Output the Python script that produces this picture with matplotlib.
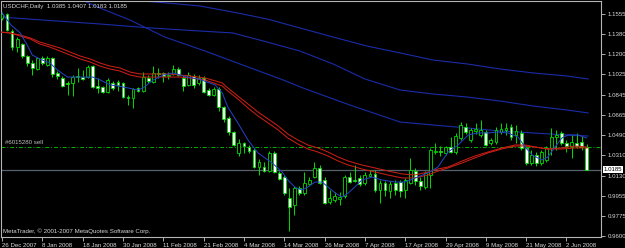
import matplotlib
matplotlib.use("Agg")
import matplotlib.pyplot as plt
import matplotlib.transforms as mtransforms
from matplotlib.patches import Rectangle

# USDCHF daily bars, 26 Dec 2007 .. 6 Jun 2008
opens = [1.1520, 1.1555, 1.1405, 1.1264, 1.1291, 1.1185, 1.1124, 1.1071, 1.1168, 1.1106,
         1.1168, 1.1036, 1.0992, 1.0948, 1.0948, 1.1009, 1.1000, 1.1000, 1.1097, 1.0921,
         1.0912, 1.0868, 1.0948, 1.0956, 1.0948, 1.0824, 1.0816, 1.0904, 1.0877, 1.0992,
         1.0956, 1.1036, 1.1036, 1.1009, 1.1027, 1.1071, 1.0992, 1.0930, 1.1009, 1.0948,
         1.0992, 1.0886, 1.0842, 1.0895, 1.0736, 1.0640, 1.0516, 1.0332, 1.0420, 1.0384,
         1.0358, 1.0208, 1.0208, 1.0173, 1.0332, 1.0156, 1.0120, 0.9936, 0.9874, 1.0024,
         0.9980, 1.0059, 1.0120, 1.0200, 1.0094, 0.9900, 0.9918, 0.9927, 0.9953, 1.0120,
         1.0094, 1.0112, 1.0068, 1.0129, 1.0147, 1.0006, 1.0068, 0.9997, 1.0068, 1.0076,
         1.0006, 1.0068, 1.0173, 1.0085, 1.0032, 1.0138, 1.0340, 1.0349, 1.0332, 1.0384,
         1.0340, 1.0464, 1.0560, 1.0446, 1.0525, 1.0490, 1.0516, 1.0420, 1.0428, 1.0516,
         1.0534, 1.0560, 1.0490, 1.0508, 1.0376, 1.0244, 1.0314, 1.0244, 1.0270, 1.0376,
         1.0472, 1.0508, 1.0420, 1.0393, 1.0420, 1.0428, 1.0385]
highs = [1.1572, 1.1564, 1.1423, 1.1352, 1.1300, 1.1194, 1.1150, 1.1176, 1.1185, 1.1185,
         1.1176, 1.1053, 1.1009, 1.0965, 1.1018, 1.1080, 1.1062, 1.1106, 1.1106, 1.0992,
         1.0921, 1.0992, 1.0965, 1.0974, 1.0956, 1.0842, 1.0904, 1.0912, 1.1044, 1.1018,
         1.1097, 1.1080, 1.1044, 1.1044, 1.1106, 1.1088, 1.1018, 1.1044, 1.1027, 1.1018,
         1.1009, 1.0904, 1.0912, 1.0912, 1.0745, 1.0657, 1.0525, 1.0455, 1.0428, 1.0402,
         1.0376, 1.0279, 1.0252, 1.0349, 1.0349, 1.0173, 1.0138, 1.0024, 1.0041, 1.0041,
         1.0164, 1.0120, 1.0252, 1.0226, 1.0120, 1.0006, 0.9988, 0.9988, 1.0138, 1.0164,
         1.0226, 1.0138, 1.0164, 1.0182, 1.0182, 1.0094, 1.0085, 1.0085, 1.0094, 1.0094,
         1.0112, 1.0288, 1.0200, 1.0120, 1.0173, 1.0376, 1.0420, 1.0393, 1.0393, 1.0472,
         1.0508, 1.0604, 1.0596, 1.0552, 1.0596, 1.0622, 1.0534, 1.0464, 1.0560, 1.0596,
         1.0596, 1.0587, 1.0578, 1.0534, 1.0393, 1.0358, 1.0340, 1.0358, 1.0393, 1.0552,
         1.0534, 1.0525, 1.0446, 1.0490, 1.0508, 1.0481, 1.0407]
lows = [1.1502, 1.1405, 1.1238, 1.1220, 1.1168, 1.1097, 1.1018, 1.1062, 1.1106, 1.1097,
        1.1000, 1.0983, 1.0912, 1.0842, 1.0833, 1.0956, 1.0974, 1.0992, 1.0904, 1.0860,
        1.0860, 1.0860, 1.0886, 1.0877, 1.0816, 1.0754, 1.0728, 1.0868, 1.0868, 1.0948,
        1.0948, 1.0992, 1.0956, 1.0983, 1.1018, 1.1009, 1.0877, 1.0921, 1.0904, 1.0930,
        1.0860, 1.0833, 1.0833, 1.0701, 1.0604, 1.0490, 1.0393, 1.0305, 1.0332, 1.0332,
        1.0200, 1.0138, 1.0164, 1.0164, 1.0156, 1.0094, 0.9962, 0.9645, 0.9786, 0.9962,
        0.9962, 1.0050, 1.0112, 1.0059, 0.9883, 0.9883, 0.9900, 0.9874, 0.9936, 1.0068,
        1.0076, 1.0041, 1.0050, 1.0120, 0.9988, 0.9892, 0.9953, 0.9936, 0.9962, 0.9944,
        0.9936, 1.0059, 1.0050, 1.0006, 1.0015, 1.0024, 1.0323, 1.0305, 1.0314, 1.0332,
        1.0323, 1.0446, 1.0499, 1.0428, 1.0499, 1.0472, 1.0393, 1.0402, 1.0411, 1.0499,
        1.0490, 1.0446, 1.0420, 1.0358, 1.0226, 1.0226, 1.0217, 1.0226, 1.0252, 1.0314,
        1.0358, 1.0402, 1.0340, 1.0288, 1.0376, 1.0358, 1.0183]
closes = [1.1555, 1.1414, 1.1264, 1.1335, 1.1185, 1.1124, 1.1080, 1.1168, 1.1124, 1.1168,
          1.1027, 1.1009, 1.0921, 1.0939, 1.1000, 1.1000, 1.0983, 1.1088, 1.0912, 1.0904,
          1.0868, 1.0974, 1.0904, 1.0930, 1.0824, 1.0816, 1.0895, 1.0877, 1.1000, 1.0965,
          1.1036, 1.1027, 1.1009, 1.1018, 1.1071, 1.1018, 1.0921, 1.1018, 1.0930, 1.0992,
          1.0868, 1.0842, 1.0895, 1.0736, 1.0631, 1.0516, 1.0402, 1.0420, 1.0393, 1.0349,
          1.0208, 1.0252, 1.0173, 1.0332, 1.0164, 1.0103, 0.9980, 0.9856, 1.0024, 0.9980,
          1.0068, 1.0094, 1.0200, 1.0068, 0.9892, 0.9936, 0.9953, 0.9944, 1.0120, 1.0076,
          1.0085, 1.0059, 1.0138, 1.0147, 1.0006, 1.0068, 1.0006, 1.0059, 1.0006, 0.9997,
          1.0094, 1.0182, 1.0085, 1.0041, 1.0156, 1.0358, 1.0349, 1.0340, 1.0384, 1.0340,
          1.0481, 1.0578, 1.0516, 1.0534, 1.0543, 1.0534, 1.0402, 1.0446, 1.0534, 1.0543,
          1.0552, 1.0472, 1.0525, 1.0376, 1.0244, 1.0314, 1.0244, 1.0340, 1.0376, 1.0472,
          1.0490, 1.0420, 1.0393, 1.0428, 1.0393, 1.0385, 1.0185]

date_ticks = [0, 8, 16, 24, 32, 40, 48, 56, 64, 72, 80, 88, 96, 104, 112]
date_labels = ["26 Dec 2007", "8 Jan 2008", "18 Jan 2008", "30 Jan 2008", "11 Feb 2008",
               "21 Feb 2008", "4 Mar 2008", "14 Mar 2008", "26 Mar 2008", "7 Apr 2008",
               "17 Apr 2008", "29 Apr 2008", "9 May 2008", "21 May 2008", "2 Jun 2008"]
price_ticks = [1.1555, 1.1380, 1.1200, 1.1025, 1.0845, 1.0665, 1.0490, 1.0310,
               1.0130, 0.9955, 0.9775, 0.9600]

# fast blue moving average (bar position, price)
ma_fast_x = [0, 1.8, 3.6, 5, 6, 7.5, 9.5, 11, 13, 16, 18, 19.5, 21.5, 23, 25, 27, 28, 30,
             32, 34, 36.7, 39, 42.3, 43.7, 44.8, 46.8, 48.8, 50.8, 53.6, 55.6, 56.7, 58.1,
             59.5, 60.7, 62.1, 63.5, 64.7, 66.1, 67.5, 68.7, 70, 71.4, 73.4, 75.4, 78, 80,
             82, 84.5, 86.5, 88.5, 90.5, 92.5, 94.4, 96.4, 98.4, 100.4, 102.4, 103.8, 105.2,
             107.1, 108.3, 109.7, 111.1, 112.3, 114.3, 116]
ma_fast_y = [1.1564, 1.1458, 1.1388, 1.1282, 1.1194, 1.1159, 1.1124, 1.1062, 1.1000, 1.1000,
             1.1000, 1.0974, 1.0930, 1.0921, 1.0904, 1.0886, 1.0904, 1.0974, 1.1018, 1.1036,
             1.1000, 1.0983, 1.0930, 1.0860, 1.0736, 1.0596, 1.0446, 1.0332, 1.0244, 1.0164,
             1.0094, 1.0032, 1.0006, 1.0032, 1.0076, 1.0076, 1.0032, 0.9980, 0.9944, 0.9980,
             1.0032, 1.0094, 1.0120, 1.0094, 1.0076, 1.0076, 1.0112, 1.0156, 1.0208, 1.0340,
             1.0402, 1.0490, 1.0508, 1.0508, 1.0516, 1.0508, 1.0472, 1.0384, 1.0314, 1.0270,
             1.0296, 1.0384, 1.0464, 1.0490, 1.0490, 1.0464]

# the two red moving averages
ma_red_x = [-0.4, 1.6, 3.6, 5.6, 7.5, 9.5, 11.5, 13.5, 15.5, 17.5, 19.4, 21.4, 23.4, 25.4,
            27.4, 29.4, 31.4, 33.3, 35.3, 37.3, 40.3, 43.7, 44.8, 46.8, 48.8, 50.8, 52.8,
            54.8, 56.7, 58.7, 60.7, 62.7, 64.7, 66.7, 68.7, 71.4, 74.0, 76.6, 79.4, 81.9,
            84.5, 86.5, 88.5, 91.3, 93.8, 96.4, 99.2, 101.8, 103.8, 105.8, 108.3, 111.1,
            113.7, 116.1]
ma_red1_y = [1.1396, 1.1388, 1.1370, 1.1344, 1.1308, 1.1282, 1.1256, 1.1220, 1.1185, 1.1159,
             1.1124, 1.1097, 1.1080, 1.1044, 1.1027, 1.1027, 1.1027, 1.1027, 1.1018, 1.1009,
             1.0992, 1.0948, 1.0904, 1.0833, 1.0763, 1.0692, 1.0631, 1.0569, 1.0499, 1.0446,
             1.0402, 1.0376, 1.0340, 1.0296, 1.0261, 1.0226, 1.0200, 1.0173, 1.0147, 1.0138,
             1.0164, 1.0191, 1.0208, 1.0261, 1.0305, 1.0340, 1.0376, 1.0402, 1.0402, 1.0384,
             1.0367, 1.0376, 1.0393, 1.0384]
ma_red2_y = [1.1396, 1.1388, 1.1361, 1.1335, 1.1291, 1.1264, 1.1229, 1.1194, 1.1159, 1.1132,
             1.1097, 1.1071, 1.1053, 1.1018, 1.1000, 1.1000, 1.1000, 1.1000, 1.1000, 1.0992,
             1.0974, 1.0921, 1.0877, 1.0807, 1.0728, 1.0657, 1.0596, 1.0534, 1.0464, 1.0411,
             1.0367, 1.0340, 1.0305, 1.0261, 1.0226, 1.0191, 1.0164, 1.0138, 1.0112, 1.0112,
             1.0138, 1.0173, 1.0200, 1.0244, 1.0288, 1.0332, 1.0367, 1.0393, 1.0393, 1.0384,
             1.0367, 1.0367, 1.0376, 1.0376]

# three slow blue moving averages
ma_a_x = [-0.4, 25.4, 32.7, 39.3, 45.8, 52.6, 59.1, 65.7, 72.4, 79.0, 85.5, 92.3, 98.8,
          105.4, 112.1, 116.3]
ma_a_y = [1.1775, 1.1678, 1.1652, 1.1625, 1.1572, 1.1511, 1.1432, 1.1352, 1.1273, 1.1212,
          1.1150, 1.1115, 1.1071, 1.1036, 1.1009, 1.0983]
ma_b_x = [-0.4, 8.1, 19.4, 29.4, 39.3, 45.8, 52.6, 59.1, 65.7, 72.0, 79.0, 85.5, 92.3, 98.8,
          105.4, 112.1, 116.3]
ma_b_y = [1.1528, 1.1502, 1.1467, 1.1432, 1.1405, 1.1388, 1.1308, 1.1229, 1.1115, 1.0983,
          1.0886, 1.0851, 1.0824, 1.0789, 1.0745, 1.0710, 1.0684]
ma_c_x = [11.5, 19.4, 25.4, 32.3, 40.3, 47.2, 55.8, 59.7, 69.0, 79.0, 85.5, 92.3, 98.8,
          105.4, 112.1, 116.3]
ma_c_y = [1.1766, 1.1608, 1.1502, 1.1352, 1.1229, 1.1115, 1.0974, 1.0904, 1.0754, 1.0604,
          1.0578, 1.0552, 1.0525, 1.0508, 1.0490, 1.0481]

order_price = 1.0385
bid_price = 1.0185

green = "#00dc00"
fg = "#d8d8d8"
fs = 4.4
plt.rcParams["font.family"] = ["Liberation Sans", "DejaVu Sans"]

fig = plt.figure(figsize=(6.25, 2.48), dpi=100, facecolor="black")
ax = fig.add_axes([1 / 625, 11 / 248, 600 / 625, 236 / 248])
ax.set_facecolor("black")

# slow averages
for xs, ys in [(ma_a_x, ma_a_y), (ma_b_x, ma_b_y), (ma_c_x, ma_c_y)]:
    ax.plot(xs, ys, color="#1a2ca8", lw=0.8, zorder=1)

# order line and bid line
ax.axhline(order_price, color="#00b400", lw=0.7, ls=(0, (4, 2, 1, 2)), zorder=1)
ax.axhline(bid_price, color="#56606a", lw=0.9, zorder=1)

# candles
for i in range(len(opens)):
    o, h, l, c = opens[i], highs[i], lows[i], closes[i]
    ax.vlines(i, l, h, color=green, lw=0.7, zorder=2)
    lo, hi = min(o, c), max(o, c)
    fill = "white" if c < o else "black"
    if hi - lo < 0.0003:
        ax.hlines(o, i - 0.3, i + 0.3, color=green, lw=0.8, zorder=3)
    else:
        ax.add_patch(Rectangle((i - 0.28, lo), 0.56, hi - lo, facecolor=fill,
                               edgecolor=green, lw=0.6, zorder=3))

# red and fast blue averages on top
ax.plot(ma_red_x, ma_red1_y, color="#c81e14", lw=0.75, zorder=4)
ax.plot(ma_red_x, ma_red2_y, color="#c81e14", lw=0.75, zorder=4)
ax.plot(ma_fast_x, ma_fast_y, color="#2440c0", lw=0.75, zorder=5)

ax.set_xlim(-0.2, 118.85)
ax.set_ylim(0.95924, 1.16692)

for s in ax.spines.values():
    s.set_color("#b4b4b4")
    s.set_linewidth(0.8)

ax.yaxis.tick_right()
ax.set_yticks(price_ticks)
ax.set_yticklabels([f"{p:.4f}" for p in price_ticks])
ax.set_xticks(date_ticks)
ax.set_xticklabels(date_labels, ha="left")
ax.tick_params(axis="both", colors="#c8c8c8", labelcolor=fg, labelsize=fs,
               length=3, width=0.6, pad=1.5)

ax.text(1.004, bid_price, f"{bid_price:.4f}",
        transform=mtransforms.blended_transform_factory(ax.transAxes, ax.transData),
        ha="left", va="center", fontsize=fs, color="black", clip_on=False,
        bbox=dict(facecolor="white", edgecolor="none", pad=0.6), zorder=6)

ax.text(0.004, 0.975, "USDCHF,Daily  1.0385 1.0407 1.0183 1.0185", transform=ax.transAxes,
        ha="left", va="center", fontsize=fs, color=fg)
ax.text(0.6, order_price + 0.0035, "#6015280 sell", ha="left", va="center",
        fontsize=fs, color="#c0c0c0")
ax.text(0.004, 0.026, "MetaTrader, \u00a9 2001-2007 MetaQuotes Software Corp.",
        transform=ax.transAxes, ha="left", va="center", fontsize=fs, color=fg)

fig.savefig("out.png", dpi=100, facecolor="black")
